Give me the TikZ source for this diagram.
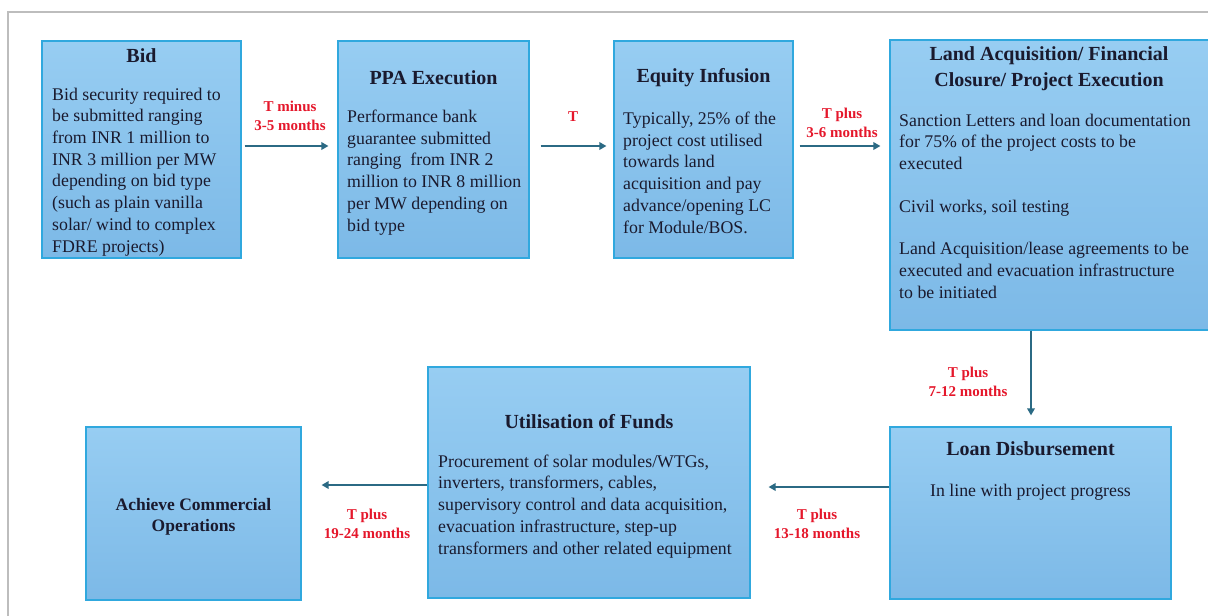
\documentclass[tikz,border=0pt]{standalone}
\usepackage{fontspec}
\setmainfont{Liberation Serif}
\usetikzlibrary{arrows.meta}
\definecolor{boxtop}{HTML}{97CDF2}
\definecolor{boxbot}{HTML}{7CB9E7}
\definecolor{boxline}{HTML}{30A8DE}
\definecolor{arrowc}{HTML}{2B6A84}
\definecolor{labred}{HTML}{E5172B}
\definecolor{txt}{HTML}{1A1A2E}
\definecolor{framec}{HTML}{BDBDBD}
\begin{document}
\begin{tikzpicture}[x=1pt,y=-1pt,
 box/.style={draw=boxline, line width=1.2pt, top color=boxtop, bottom color=boxbot, inner sep=0pt, rectangle},
 ttl/.style={font=\fontsize{20}{26}\selectfont\bfseries, text=txt, inner sep=0pt, anchor=base, align=center},
 body/.style={font=\fontsize{17.8}{21.7}\selectfont, text=txt, inner sep=0pt, anchor=base west, align=left},
 cbody/.style={font=\fontsize{17.8}{21.7}\selectfont, text=txt, inner sep=0pt, anchor=base, align=center},
 lab/.style={font=\fontsize{15}{19}\selectfont\bfseries, text=labred, inner sep=0pt, anchor=base, align=center},
 arr/.style={draw=arrowc, line width=1.7pt, -{Triangle[length=7pt,width=7.5pt]}}]
\useasboundingbox (0,0) rectangle (1208,616);
\clip (0,0) rectangle (1208,616);
\fill[white] (0,0) rectangle (1208,616);
\draw[framec, line width=1.5pt] (8,640) -- (8,12) -- (1230,12);

% boxes
\node[box, minimum width=199pt, minimum height=217pt] (bid) at (141.5,149.5) {};
\node[box, minimum width=191pt, minimum height=217pt] (ppa) at (433.5,149.5) {};
\node[box, minimum width=179pt, minimum height=217pt] (eq) at (703.5,149.5) {};
\node[box, minimum width=320pt, minimum height=290pt] (land) at (1050,185) {};
\node[box, minimum width=281pt, minimum height=172pt] (loan) at (1030.5,513) {};
\node[box, minimum width=322pt, minimum height=231pt] (util) at (589,482.5) {};
\node[box, minimum width=215pt, minimum height=173pt] (ach) at (193.5,513.5) {};

% texts (multi-line nodes are placed by the baseline of their last line)
\node[ttl] (bidT) at (141.5,62) {Bid};
\node[body] (bidB) at (52,252) {Bid security required to\\be submitted ranging\\from INR 1 million to\\INR 3 million per MW\\depending on bid type\\(such as plain vanilla\\solar/ wind to complex\\FDRE projects)};

\node[ttl] (ppaT) at (433.5,84) {PPA Execution};
\node[body] (ppaB) at (347,231) {Performance bank\\guarantee submitted\\ranging \ from INR 2\\million to INR 8 million\\per MW depending on\\bid type};

\node[ttl] (eqT) at (703.5,82) {Equity Infusion};
\node[body] (eqB) at (623,233) {Typically, 25\% of the\\project cost utilised\\towards land\\acquisition and pay\\advance/opening LC\\for Module/BOS.};

\node[ttl] (landT) at (1049,86) {Land Acquisition/ Financial\\Closure/ Project Execution};
\node[body] (landB) at (899,298) {Sanction Letters and loan documentation\\for 75\% of the project costs to be\\executed\\[21.7pt]Civil works, soil testing\\[20pt]Land Acquisition/lease agreements to be\\executed and evacuation infrastructure\\to be initiated};

\node[ttl] (loanT) at (1030.5,455) {Loan Disbursement};
\node[cbody] (loanB) at (1030.5,496) {In line with project progress};

\node[ttl] (utilT) at (589,428) {Utilisation of Funds};
\node[body] (utilB) at (438,554) {Procurement of solar modules/WTGs,\\inverters, transformers, cables,\\supervisory control and data acquisition,\\evacuation infrastructure, step-up\\transformers and other related equipment};

\node[ttl, font=\fontsize{17.5}{21}\selectfont\bfseries] (achT) at (193.5,531) {Achieve Commercial\\Operations};

% labels
\node[lab] (l1) at (290,130) {T minus\\3-5 months};
\node[lab] (l2) at (573,121) {T};
\node[lab] (l3) at (842,137) {T plus\\3-6 months};
\node[lab] (l4) at (968,396) {T plus\\7-12 months};
\node[lab] (l5) at (817,538) {T plus\\13-18 months};
\node[lab] (l6) at (367,538) {T plus\\19-24 months};

% arrows
\draw[arr, shorten <=3pt, shorten >=9pt] ([yshift=3.5pt]bid.east) -- ([yshift=3.5pt]ppa.west);
\draw[arr, shorten <=11pt, shorten >=7pt] ([yshift=3.5pt]ppa.east) -- ([yshift=3.5pt]eq.west);
\draw[arr, shorten <=6pt, shorten >=9pt] ([yshift=3.5pt]eq.east) -- ([yshift=3.5pt]eq.east -| land.west);
\draw[arr, shorten >=11pt] ([xshift=-19pt]land.south) -- ([xshift=-19pt]land.south |- loan.north);
\draw[arr, shorten >=18pt] ([yshift=26pt]loan.west) -- ([yshift=26pt]loan.west -| util.east);
\draw[arr, shorten >=20pt] ([yshift=-2.5pt]util.west) -- ([yshift=-2.5pt]util.west -| ach.east);
\end{tikzpicture}
\end{document}
